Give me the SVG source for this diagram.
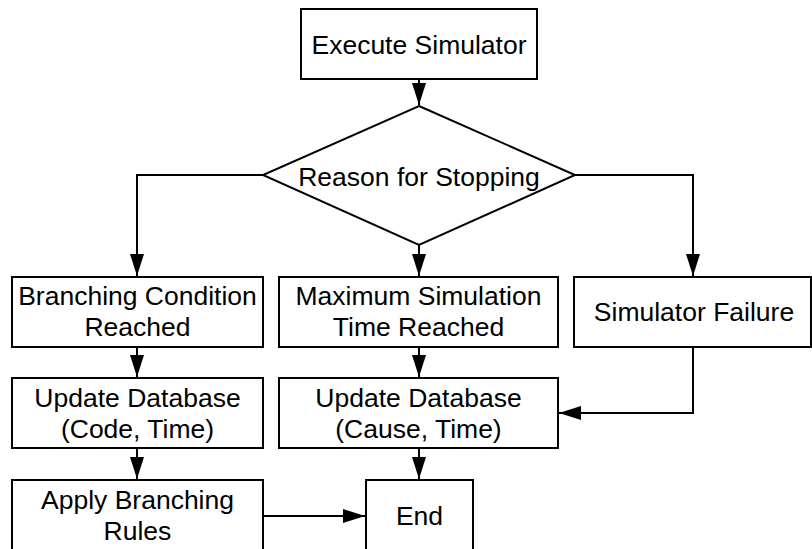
<svg xmlns="http://www.w3.org/2000/svg" width="812" height="549" viewBox="0 0 812 549">
<defs>
<style>
.box{fill:#fff;stroke:#000;stroke-width:2}
.t{font-family:"Liberation Sans",Arial,sans-serif;font-size:26.5px;fill:#000;text-anchor:middle}
.c{fill:none;stroke:#000;stroke-width:2}
</style>
<marker id="ah" markerUnits="userSpaceOnUse" markerWidth="22" markerHeight="14" refX="22" refY="7" orient="auto">
<path d="M0,0 L22,7 L0,14 Z" fill="#000"/>
</marker>
</defs>
<rect width="812" height="549" fill="#fff"/>
<g id="connectors">
<path class="c" d="M419,79 L419,105" marker-end="url(#ah)"/>
<path class="c" d="M263,175 L137,175 L137,276" marker-end="url(#ah)"/>
<path class="c" d="M419,245 L419,276" marker-end="url(#ah)"/>
<path class="c" d="M575,175 L693,175 L693,276" marker-end="url(#ah)"/>
<path class="c" d="M137,347 L137,377" marker-end="url(#ah)"/>
<path class="c" d="M419,347 L419,377" marker-end="url(#ah)"/>
<path class="c" d="M693,347 L693,413 L559,413" marker-end="url(#ah)"/>
<path class="c" d="M137,448 L137,479" marker-end="url(#ah)"/>
<path class="c" d="M419,448 L419,479" marker-end="url(#ah)"/>
<path class="c" d="M263,516 L365,516" marker-end="url(#ah)"/>
</g>
<g id="execute">
<rect class="box" x="301" y="9" width="236" height="70"/>
<text class="t" x="419" y="54">Execute Simulator</text>
</g>
<g id="reason">
<path class="box" d="M419,106 L575,175 L419,245 L263,175 Z"/>
<text class="t" x="419" y="186">Reason for Stopping</text>
</g>
<g id="branching">
<rect class="box" x="12" y="277" width="251" height="70"/>
<text class="t" x="137.5" y="305">Branching Condition</text>
<text class="t" x="137.5" y="336">Reached</text>
</g>
<g id="maxsim">
<rect class="box" x="279" y="277" width="279" height="70"/>
<text class="t" x="418.5" y="305">Maximum Simulation</text>
<text class="t" x="418.5" y="336">Time Reached</text>
</g>
<g id="failure">
<rect class="box" x="574" y="277" width="237" height="70"/>
<text class="t" x="694" y="321">Simulator Failure</text>
</g>
<g id="update-code">
<rect class="box" x="12" y="378" width="251" height="70"/>
<text class="t" x="137.5" y="407">Update Database</text>
<text class="t" x="137.5" y="438">(Code, Time)</text>
</g>
<g id="update-cause">
<rect class="box" x="279" y="378" width="279" height="70"/>
<text class="t" x="418.5" y="407">Update Database</text>
<text class="t" x="418.5" y="438">(Cause, Time)</text>
</g>
<g id="apply">
<rect class="box" x="12" y="480" width="251" height="90"/>
<text class="t" x="137.5" y="509">Apply Branching</text>
<text class="t" x="137.5" y="540">Rules</text>
</g>
<g id="end">
<rect class="box" x="366" y="480" width="107" height="90"/>
<text class="t" x="419.5" y="525">End</text>
</g>
</svg>
